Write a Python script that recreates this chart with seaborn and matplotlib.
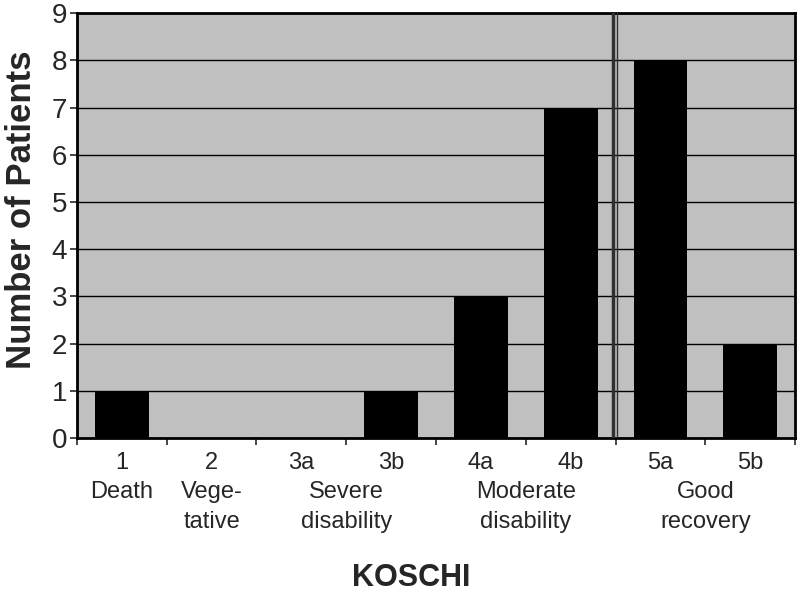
import matplotlib
matplotlib.use('Agg')
import matplotlib.pyplot as plt
import matplotlib.transforms as mtransforms
import seaborn as sns
import pandas as pd

codes = ['1', '2', '3a', '3b', '4a', '4b', '5a', '5b']
patients = [1, 0, 0, 1, 3, 7, 8, 2]
# descriptive labels and the category position they sit under
group_names = ['Death', 'Vege-\ntative', 'Severe\ndisability', 'Moderate\ndisability', 'Good\nrecovery']
group_pos = [0, 1, 2.5, 4.5, 6.5]

sns.set_style('white')
plt.rcParams['font.family'] = ['Liberation Sans', 'DejaVu Sans']

df = pd.DataFrame({'code': codes, 'n': patients})

fig = plt.figure(figsize=(8, 5.96), dpi=100)
ax = fig.add_axes([0.096, 0.265, 0.898, 0.713])
ax.set_facecolor('#c0c0c0')

sns.barplot(data=df, x='code', y='n', color='black', width=0.6,
            saturation=1, ax=ax, zorder=3, edgecolor='black', linewidth=0)

ax.set_ylim(0, 9)
ax.set_xlim(-0.5, 7.5)
ax.set_yticks(range(0, 10))
ax.yaxis.grid(True, color='black', linewidth=1, zorder=1)
ax.set_axisbelow(True)
ax.tick_params(axis='y', labelsize=20, length=5, width=1.2, direction='out', left=True, pad=2)

# x ticks at category boundaries, labels drawn as text
ax.set_xticks([i + 0.5 for i in range(-1, 8)])
ax.set_xticklabels([])
ax.tick_params(axis='x', length=5, width=1.2, direction='out', bottom=True)

trans = mtransforms.blended_transform_factory(ax.transData, fig.transFigure)
for i, c in enumerate(codes):
    ax.text(i, 1 - 463 / 596, c, transform=trans, ha='center', va='center', fontsize=17)
for name, p in zip(group_names, group_pos):
    ax.text(p, 1 - 481 / 596, name, transform=trans, ha='center', va='top',
            fontsize=17, linespacing=1.45)

# separator between moderate disability and good recovery
ax.axvline(5.47, color='#303030', linewidth=2.5, zorder=4)
ax.axvline(5.515, color='#303030', linewidth=1, zorder=4)

for s in ax.spines.values():
    s.set_color('black')
    s.set_linewidth(2)

ax.set_xlabel('')
ax.set_ylabel('')
fig.text(22 / 800, 1 - 210 / 596, 'Number of Patients', rotation=90, ha='center', va='center',
         fontsize=25, fontweight='bold')
fig.text(411 / 800, 1 - 578 / 596, 'KOSCHI', ha='center', va='center',
         fontsize=22, fontweight='bold')

fig.savefig('out.png', dpi=100, facecolor='white')
